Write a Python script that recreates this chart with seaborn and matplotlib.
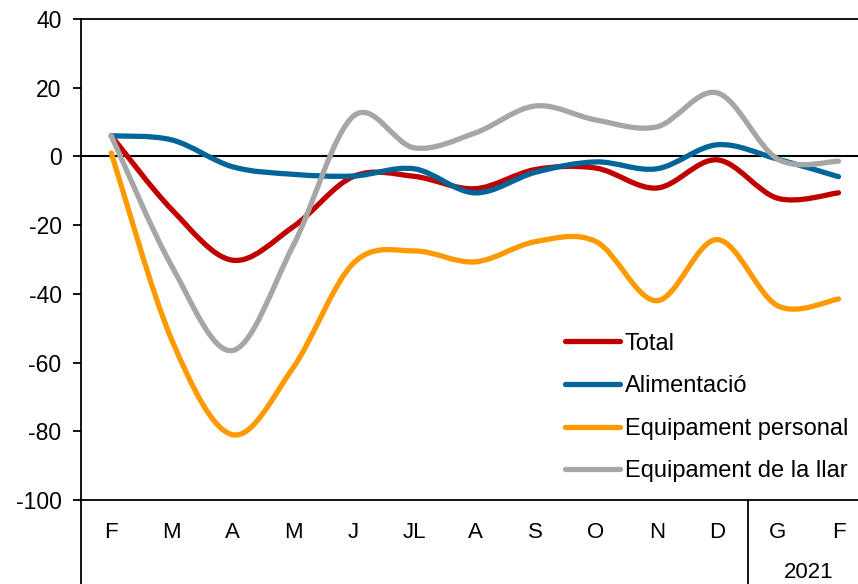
import numpy as np
import pandas as pd
import seaborn as sns
import matplotlib.pyplot as plt
from matplotlib.path import Path
from matplotlib.patches import PathPatch
from matplotlib.lines import Line2D

# monthly change (%) by product group
months = ['F', 'M', 'A', 'M', 'J', 'JL', 'A', 'S', 'O', 'N', 'D', 'G', 'F']
total = [6, -15.5, -30.2, -20.5, -5.8, -5.8, -9.4, -3.8, -3.4, -9.2, -1.0, -12.2, -10.6]
alimentacio = [6, 4.8, -3.0, -5.2, -5.7, -3.6, -10.6, -4.6, -1.6, -3.6, 3.4, -0.8, -5.9]
equip_personal = [1, -53.5, -81, -61.5, -31, -27.5, -30.7, -24.8, -24.8, -42, -24.2, -43.5, -41.5]
equip_llar = [6, -32, -56.5, -26, 11.8, 2.5, 6.8, 14.7, 10.6, 8.6, 18.5, -0.8, -1.4]
series_names = ['Total', 'Alimentació', 'Equipament personal', 'Equipament de la llar']
series_colors = ['#C00000', '#006699', '#FF9900', '#A6A6A6']
year_label = '2021'


def smooth_path(x, y):
    """Catmull-Rom style bezier through the points (like Excel smoothed lines)."""
    pts = np.column_stack([x, y]).astype(float)
    n = len(pts)
    verts = [pts[0]]
    codes = [Path.MOVETO]
    for i in range(n - 1):
        p0 = pts[max(i - 1, 0)]
        p1 = pts[i]
        p2 = pts[i + 1]
        p3 = pts[min(i + 2, n - 1)]
        verts += [p1 + (p2 - p0) / 6, p2 - (p3 - p1) / 6, p2]
        codes += [Path.CURVE4] * 3
    return Path(verts, codes)


df = pd.DataFrame({'pos': range(len(months)), 'Total': total, 'Alimentació': alimentacio,
                   'Equipament personal': equip_personal, 'Equipament de la llar': equip_llar})
long_df = df.melt(id_vars='pos', var_name='serie', value_name='valor')

sns.set_theme(style='white')
plt.rcParams['font.family'] = ['Liberation Sans', 'DejaVu Sans']
plt.rcParams['axes.unicode_minus'] = False

fig = plt.figure(figsize=(8.58, 5.84), dpi=100)
ax = fig.add_axes([81 / 858, 84 / 584, 13 * 60.6 / 858, 481 / 584])

sns.lineplot(data=long_df, x='pos', y='valor', hue='serie', hue_order=series_names,
             palette=series_colors, linewidth=3.8, legend=False, ax=ax)

# swap the straight segments for smoothed curves
for line in list(ax.lines):
    xs, ys = line.get_data()
    ax.add_patch(PathPatch(smooth_path(xs, ys), fill=False, edgecolor=line.get_color(),
                           lw=3.8, capstyle='round', joinstyle='round', zorder=3))
    line.remove()

ax.axhline(0, color='black', lw=1.5, zorder=2)

ax.set_xlim(-0.5, len(months) - 0.5)
ax.set_ylim(-100, 40)
ax.set_yticks(range(-100, 41, 20))
ax.set_xticks(range(len(months)))
ax.set_xticklabels(months)
ax.set_xlabel('')
ax.set_ylabel('')
ax.tick_params(axis='x', length=0, pad=16, labelsize=16, labelcolor='black')
ax.tick_params(axis='y', left=True, length=6, width=1.3, pad=8, labelsize=16.5,
               color='black', labelcolor='black')
for sp in ax.spines.values():
    sp.set_color('black')
    sp.set_linewidth(1.3)

# year separator and left border extending below the axis
drop = -84 / 481
ax.axvline(-0.5, ymin=drop, ymax=0, color='black', lw=1.3, clip_on=False)
ax.axvline(10.5, ymin=drop, ymax=0, color='black', lw=1.3, clip_on=False)
ax.text(11.5, -72 / 481, year_label, transform=ax.get_xaxis_transform(),
        ha='center', va='center', fontsize=16, color='black')

handles = [Line2D([], [], color=c, lw=3.8, solid_capstyle='round') for c in series_colors]
leg = ax.legend(handles, series_names, loc='center left', bbox_to_anchor=(565 / 858, 1 - 407.5 / 584),
                bbox_transform=fig.transFigure, frameon=False, fontsize=17, borderpad=0,
                borderaxespad=0, handlelength=2.33, handletextpad=0.2, labelspacing=0.87)
for t in leg.get_texts():
    t.set_color('black')

fig.savefig('out.png', dpi=100)
